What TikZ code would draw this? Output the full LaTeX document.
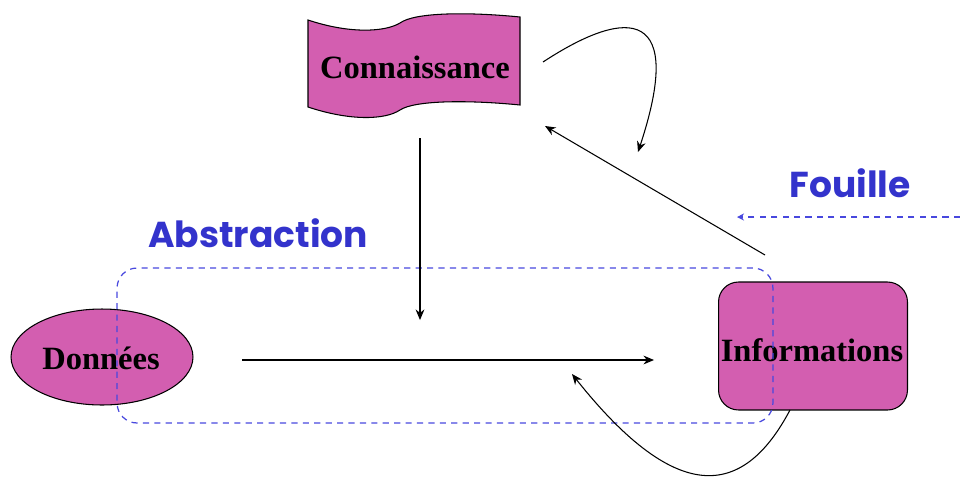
\documentclass[tikz,border=0pt]{standalone}
\usepackage{fontspec}
\setmainfont{Liberation Serif}
\newfontfamily\labelfont{Poppins}
\usetikzlibrary{shapes.geometric,arrows.meta}
\definecolor{nodepink}{RGB}{211,94,176}
\definecolor{labelblue}{RGB}{51,51,204}
\definecolor{dashblue}{RGB}{72,72,222}
\begin{document}
\begin{tikzpicture}[
        x=0.02cm, y=-0.02cm,
        txt/.style={font=\fontsize{18.5}{20}\selectfont\bfseries, inner sep=0pt},
        databox/.style={ellipse, draw=black, fill=nodepink, line width=0.6pt, minimum width=3.64cm, minimum height=1.92cm, inner sep=0pt},
        infobox/.style={rectangle, rounded corners=0.4cm, draw=black, fill=nodepink, line width=0.6pt, minimum width=3.78cm, minimum height=2.56cm, inner sep=0pt},
        groupbox/.style={rectangle, rounded corners=0.4cm, draw=dashblue, line width=0.7pt, dash pattern=on 3.5pt off 3pt, minimum width=13.12cm, minimum height=3.1cm},
        bluelabel/.style={text=labelblue, font=\labelfont\bfseries\fontsize{20.5}{23}\selectfont, inner sep=0pt},
        arrow/.style={-{Stealth[length=6pt,width=5pt]}, line width=0.6pt},
        dasharrow/.style={-{Stealth[length=4pt,width=4pt]}, draw=dashblue, line width=0.7pt, dash pattern=on 3.5pt off 3pt}
    ]
    \useasboundingbox (0,0) rectangle (960,481);

    % Connaissance banner
    \fill[nodepink, draw=black, line width=0.6pt] (308,20) .. controls (350,34) and (385,32) .. (400,23)
        .. controls (415,12) and (470,12) .. (520,17) -- (520,105)
        .. controls (470,100) and (415,100) .. (400,110)
        .. controls (385,120) and (350,121) .. (308,107) -- cycle;
    \node[txt] (con) at (415,67) {Connaissance};

    % Nodes
    \node[databox] (don) at (102,357) {};
    \node[txt] (dontxt) at (101,358) {Données};
    \node[infobox] (inf) at (813,346) {};
    \node[txt] (inftxt) at (812,350) {Informations};

    % Abstraction group
    \node[groupbox] (abs) at (445,345.5) {};
    \node[bluelabel] (abslabel) at (258,233) {Abstraction};
    \node[bluelabel] (foulabel) at (850,183) {Fouille};

    % Connector ends
    \coordinate (condown) at (420,138);
    \coordinate (midtip) at (420,320);
    \coordinate (donright) at (242,360);
    \coordinate (inftip) at (654,360);
    \coordinate (infup) at (765,255);
    \coordinate (contip) at (545,126);
    \coordinate (conright) at (543,62);
    \coordinate (looptip) at (638,152);
    \coordinate (infdown) at (790,410);
    \coordinate (backtip) at (572,374);
    \coordinate (fouin) at (960,217);
    \coordinate (foutip) at (737,217);

    % Arrows
    \draw[arrow] (condown) -- (midtip);
    \draw[arrow] (donright) -- (inftip);
    \draw[arrow] (infup) -- (contip);
    \draw[arrow] (conright) .. controls (630,5) and (685,10) .. (looptip);
    \draw[arrow] (infdown) .. controls (745,495) and (680,510) .. (backtip);
    \draw[dasharrow] (fouin) -- (foutip);

    \end{tikzpicture}
\end{document}
